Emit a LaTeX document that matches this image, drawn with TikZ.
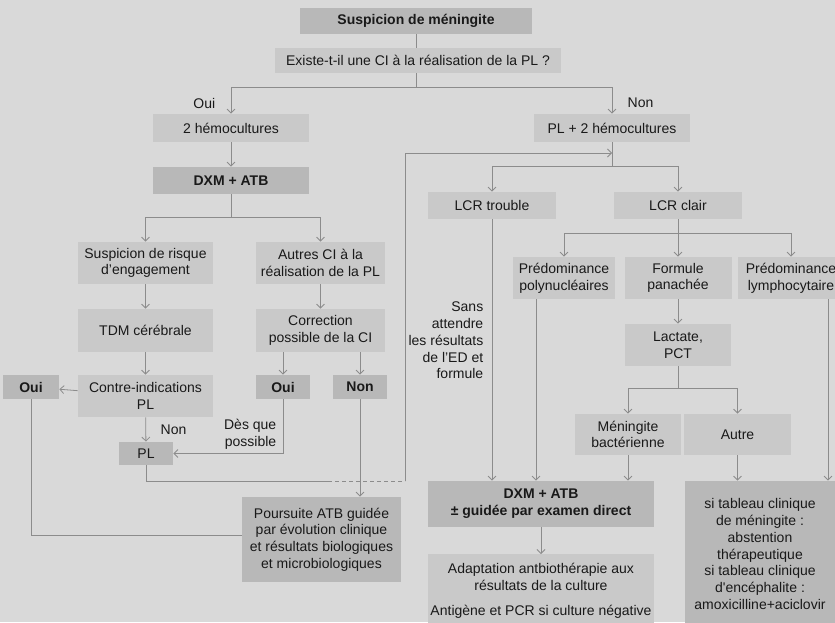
\documentclass[tikz,border=0pt]{standalone}
\usepackage{fontspec}
\setmainfont{Liberation Sans}
\usetikzlibrary{arrows.meta}

\definecolor{bgc}{gray}{0.85}
\definecolor{lightc}{gray}{0.79}
\definecolor{darkc}{gray}{0.72}
\definecolor{linec}{gray}{0.55}
\definecolor{textc}{gray}{0.1}

\begin{document}
\begin{tikzpicture}[x=1pt, y=-1pt, line width=0.8pt,
    >={Straight Barb[length=4pt,width=8pt]},
    every node/.style={font=\fontsize{14}{16.7}\selectfont, text=textc},
    lbox/.style={fill=lightc, inner sep=0pt, align=center},
    dbox/.style={fill=darkc, inner sep=0pt, align=center},
    hbox/.style={dbox, font=\fontsize{14}{16.7}\selectfont\bfseries},
    wire/.style={draw=linec}]

    \useasboundingbox (0,0) rectangle (835,622);
    \clip (0,0) rectangle (835,622);
    \fill[bgc] (0,0) rectangle (835,622);

    % Nodes
    \node[hbox, minimum width=232, minimum height=26] at (416, 21) (susp) {Suspicion de méningite};
    \node[lbox, minimum width=286, minimum height=25] at (418, 60.5) (ci) {Existe-t-il une CI à la réalisation de la PL ?};
    \node[lbox, minimum width=156, minimum height=28] at (231, 128) (hemo) {2 hémocultures};
    \node[lbox, minimum width=156, minimum height=28] at (612, 128) (plhemo) {PL + 2 hémocultures};
    \node[hbox, minimum width=156, minimum height=27] at (231, 180.5) (dxm) {DXM + ATB};
    \node[lbox, minimum width=135, minimum height=42] at (145.5, 263) (risque) {Suspicion de risque\\d'engagement};
    \node[lbox, minimum width=129, minimum height=42] at (320.5, 263) (autres) {Autres CI à la\\réalisation de la PL};
    \node[lbox, minimum width=135, minimum height=43] at (145.5, 330.5) (tdm) {TDM cérébrale};
    \node[lbox, minimum width=129, minimum height=43] at (320.5, 330.5) (corr) {Correction\\possible de la CI};
    \node[lbox, minimum width=135, minimum height=42] at (145.5, 396) (contre) {Contre-indications\\PL};
    \node[hbox, minimum width=56, minimum height=24] at (31, 387) (ouil) {Oui};
    \node[hbox, minimum width=54, minimum height=24] at (283, 387) (ouim) {Oui};
    \node[hbox, minimum width=54, minimum height=24] at (360, 387) (nonm) {Non};
    \node[dbox, minimum width=54, minimum height=23] at (146, 453.5) (pl) {PL};
    \node[dbox, minimum width=159, minimum height=85] at (321.5, 539.5) (pours) {Poursuite ATB guidée\\par évolution clinique\\et résultats biologiques\\et microbiologiques};
    \node[lbox, minimum width=128, minimum height=27] at (492, 205.5) (lcrt) {LCR trouble};
    \node[lbox, minimum width=128, minimum height=27] at (678, 205.5) (lcrc) {LCR clair};
    \node[lbox, minimum width=102, minimum height=42] at (564, 278) (poly) {Prédominance\\polynucléaires};
    \node[lbox, minimum width=107, minimum height=42] at (678, 278) (form) {Formule\\panachée};
    \node[lbox, minimum width=106, minimum height=42] at (791, 278) (lymph) {Prédominance\\lymphocytaire};
    \node[lbox, minimum width=106, minimum height=42] at (678, 345) (lact) {Lactate,\\PCT};
    \node[lbox, minimum width=106, minimum height=41] at (628, 434.5) (menb) {Méningite\\bactérienne};
    \node[lbox, minimum width=107, minimum height=41] at (737.5, 434.5) (autre) {Autre};
    \node[hbox, minimum width=226, minimum height=46] at (541, 504) (dxmb) {DXM + ATB\\± guidée par examen direct};
    \node[lbox, minimum width=226, inner ysep=9pt, anchor=north] at (541, 554) (adapt) {Adaptation antbiothérapie aux\\résultats de la culture\\[8pt]Antigène et PCR si culture négative};
    \node[dbox, minimum width=150, minimum height=146] at (760, 554) (sitab) {si tableau clinique\\de méningite :\\abstention\\thérapeutique\\si tableau clinique\\d\textquotesingle encéphalite :\\amoxicilline+aciclovir};

    % Labels
    \node[anchor=east] at (219, 103) (oui) {Oui};
    \node[anchor=west] at (624, 103) (non) {Non};
    \node[anchor=west] at (157, 430) (nonpl) {Non};
    \node[anchor=east, align=right] at (280, 434) (desque) {Dès que\\possible};
    \node[anchor=east, align=right] at (487, 340.5) (sans) {Sans\\attendre\\les résultats\\de l'ED et\\formule};

    % Split points
    \coordinate (split1) at (416, 87);
    \coordinate (split2) at (231, 217);
    \coordinate (split3) at (612, 166);
    \coordinate (split4) at (678, 233);
    \coordinate (split5) at (678, 388);
    \coordinate (dashA) at (328, 481);
    \coordinate (dashB) at (405, 481);
    \coordinate (join) at (405, 153);

    % Arrows, left part
    \draw[wire] (susp.south -| split1) -- (ci.north -| split1);
    \draw[wire] (ci.south -| split1) -- (split1);
    \draw[wire, ->] (split1) -| (hemo);
    \draw[wire, ->] (split1) -| (plhemo);
    \draw[wire, ->] (hemo) -- (dxm);
    \draw[wire] (dxm) -- (split2);
    \draw[wire, ->] (split2) -| (risque);
    \draw[wire, ->] (split2) -| (autres);
    \draw[wire, ->] (risque) -- (tdm);
    \draw[wire, ->] (tdm) -- (contre);
    \draw[wire, ->] (autres) -- (corr);
    \draw[wire, ->] (corr.south -| ouim) -- (ouim);
    \draw[wire, ->] (corr.south -| nonm) -- (nonm);
    \draw[wire, ->] (contre) -- (ouil);
    \draw[wire, ->] (contre) -- (pl);
    \draw[wire, ->] (ouim) |- (pl);
    \draw[wire, ->] (nonm) -- (nonm |- pours.north);
    \draw[wire] (ouil.south) |- ([yshift=4.5pt]pours.west);
    \draw[wire] (pl) |- (dashA);
    \draw[wire, dash pattern=on 4pt off 3pt] (dashA) -- (dashB);
    \draw[wire, ->] (dashB) |- (split3 |- join);

    % Arrows, right part
    \draw[wire] (plhemo) -- (split3);
    \draw[wire, ->] (split3) -| (lcrt);
    \draw[wire, ->] (split3) -| (lcrc);
    \draw[wire, ->] (lcrt) -- (lcrt |- dxmb.north);
    \draw[wire] (lcrc) -- (split4);
    \draw[wire, ->] (split4) -| (poly);
    \draw[wire, ->] (split4) -- (form);
    \draw[wire, ->] (split4) -| (lymph);
    \draw[wire, ->] (form) -- (lact);
    \draw[wire, ->] ([xshift=-28pt]poly.south) -- ([xshift=-28pt]poly.south |- dxmb.north);
    \draw[wire] (lact) -- (split5);
    \draw[wire, ->] (split5) -| (menb);
    \draw[wire, ->] (split5) -| (autre);
    \draw[wire, ->] (menb) -- (menb |- dxmb.north);
    \draw[wire, ->] (autre) -- (autre |- sitab.north);
    \draw[wire, ->] ([xshift=37pt]lymph.south) -- ([xshift=37pt]lymph.south |- sitab.north);
    \draw[wire, ->] (dxmb) -- (adapt);

\end{tikzpicture}
\end{document}
